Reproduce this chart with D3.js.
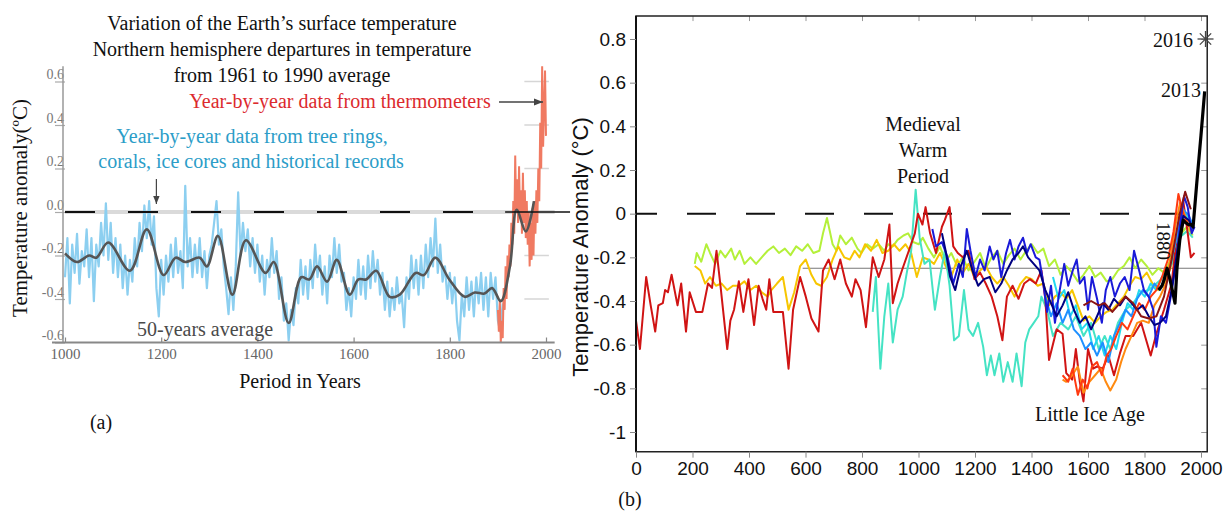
<!DOCTYPE html>
<html>
<head>
<meta charset="utf-8">
<script src="https://cdn.jsdelivr.net/npm/d3@7"></script>
<style>
  body { margin: 0; background: #fff; }
  svg { display: block; }
</style>
</head>
<body>
<div id="container"></div>
<script>
// ---------- panel (a) data ----------
// tree rings / corals / ice cores, one value every 5 years from 1000
let proxyStart = 1000;
let proxyStep = 5;
let proxyValues = [
  -0.30,-0.12,-0.42,-0.15,-0.28,-0.10,-0.33,-0.18,-0.25,-0.08,
  -0.30,-0.12,-0.41,-0.15,-0.25,-0.05,-0.20, 0.04,-0.22,-0.05,
  -0.28,-0.12,-0.30,-0.15,-0.35,-0.20,-0.38,-0.22,-0.32,-0.12,
  -0.25,-0.05,-0.18, 0.03,-0.12, 0.05,-0.15,-0.02,-0.35,-0.48,
  -0.22,-0.38,-0.20,-0.32,-0.15,-0.30,-0.12,-0.28,-0.18,-0.35,
   0.12,-0.25,-0.12,-0.30,-0.15,-0.28,-0.12,-0.30,-0.18,-0.35,
  -0.20,-0.15,-0.05, 0.05,-0.15,-0.08,-0.25,-0.35,-0.47,-0.30,
  -0.45,-0.25, 0.09,-0.20,-0.05,-0.18,-0.08,-0.25,-0.12,-0.28,
  -0.15,-0.32,-0.20,-0.38,-0.22,-0.30,-0.12,-0.28,-0.18,-0.40,
  -0.30,-0.50,-0.42,-0.59,-0.45,-0.52,-0.35,-0.42,-0.22,-0.38,
  -0.25,-0.40,-0.22,-0.35,-0.15,-0.30,-0.20,-0.38,-0.25,-0.42,
  -0.20,-0.30,-0.12,-0.28,-0.15,-0.32,-0.28,-0.45,-0.35,-0.48,
  -0.30,-0.40,-0.22,-0.38,-0.25,-0.40,-0.20,-0.35,-0.18,-0.32,
  -0.22,-0.38,-0.28,-0.45,-0.32,-0.48,-0.35,-0.45,-0.30,-0.42,
  -0.38,-0.53,-0.30,-0.40,-0.20,-0.35,-0.22,-0.38,-0.20,-0.35,
  -0.15,-0.30,-0.12,-0.25,-0.03,-0.28,-0.15,-0.32,-0.25,-0.40,
  -0.28,-0.42,-0.30,-0.50,-0.59,-0.38,-0.48,-0.30,-0.45,-0.32,
  -0.48,-0.30,-0.42,-0.28,-0.45,-0.30,-0.48,-0.28,-0.40,-0.30,
  -0.50,-0.55,-0.42
];
// thermometer record, every 2 years from 1900
let thermoStart = 1900;
let thermoStep = 2;
let thermoValues = [
  -0.45,-0.55,-0.40,-0.60,-0.50,-0.58,-0.35,-0.45,-0.25,-0.40,
  -0.20,-0.30,-0.15,-0.25,-0.05,-0.15, 0.05,-0.10, 0.26, 0.00,
   0.15,-0.05, 0.21,-0.02, 0.10,-0.10, 0.18,-0.05, 0.10,-0.12,
   0.05,-0.15, 0.00,-0.25,-0.05,-0.22, 0.02,-0.20, 0.05,-0.10,
   0.10,-0.05, 0.20, 0.05, 0.41, 0.20, 0.67, 0.30, 0.48, 0.65,
   0.35
];
// 50-year average (year, anomaly)
let average50 = [
  [1000,-0.19],[1025,-0.23],[1050,-0.20],[1065,-0.21],[1090,-0.14],[1135,-0.27],
  [1170,-0.08],[1205,-0.29],[1230,-0.21],[1250,-0.23],[1280,-0.21],[1295,-0.25],
  [1318,-0.11],[1348,-0.38],[1376,-0.13],[1417,-0.28],[1434,-0.23],[1465,-0.51],
  [1491,-0.30],[1508,-0.31],[1524,-0.25],[1545,-0.32],[1565,-0.22],[1592,-0.38],
  [1610,-0.31],[1626,-0.31],[1647,-0.27],[1675,-0.39],[1696,-0.38],[1729,-0.28],
  [1746,-0.29],[1770,-0.21],[1799,-0.31],[1831,-0.39],[1852,-0.37],[1872,-0.375],
  [1888,-0.35],[1906,-0.41],[1925,-0.25],[1939,0.01],[1958,-0.09],[1975,0.05]
];
let ticksA_x = [1000, 1200, 1400, 1600, 1800, 2000];
let ticksA_y = [-0.6, -0.4, -0.2, 0, 0.2, 0.4, 0.6];

// ---------- panel (b) data : reconstructions (year, anomaly) ----------
let crimson = [
  [0,-0.49],[14,-0.62],[36,-0.29],[52,-0.42],[68,-0.54],[79,-0.42],[95,-0.41],[103,-0.35],
  [113,-0.36],[126,-0.28],[147,-0.42],[160,-0.32],[177,-0.54],[190,-0.36],[212,-0.45],[235,-0.45],
  [255,-0.32],[269,-0.34],[285,-0.17],[299,-0.33],[323,-0.62],[334,-0.49],[347,-0.44],[364,-0.31],
  [380,-0.45],[398,-0.30],[418,-0.51],[434,-0.33],[448,-0.39],[461,-0.44],[472,-0.30],[486,-0.45],
  [502,-0.45],[520,-0.45],[540,-0.71],[556,-0.44],[581,-0.29],[601,-0.38],[621,-0.48],[646,-0.54],
  [662,-0.26],[682,-0.21],[703,-0.30],[723,-0.21],[743,-0.32],[764,-0.38],[777,-0.30],[795,-0.35],
  [814,-0.52],[838,-0.20],[859,-0.29],[879,-0.21],[897,-0.05],[909,-0.41],[926,-0.32],[944,-0.25],
  [963,-0.18],[987,-0.09],[998,0.00],[1014,-0.05],[1025,0.03],[1041,-0.09],[1062,-0.18],[1083,-0.06],
  [1093,-0.03],[1110,0.03],[1123,-0.15],[1139,-0.18],[1157,-0.20],[1177,-0.17],[1198,-0.30],[1218,-0.27],
  [1238,-0.32],[1259,-0.38],[1279,-0.47],[1297,-0.58],[1313,-0.38],[1333,-0.33],[1354,-0.39],[1374,-0.32],
  [1394,-0.30],[1415,-0.32],[1435,-0.26],[1449,-0.39],[1462,-0.67],[1489,-0.53],[1510,-0.55],[1523,-0.73],
  [1544,-0.76],[1557,-0.62],[1571,-0.77],[1584,-0.86],[1600,-0.62],[1618,-0.71],[1632,-0.70],[1652,-0.71],
  [1672,-0.65],[1692,-0.74],[1713,-0.64],[1733,-0.56],[1760,-0.56],[1788,-0.50],[1822,-0.65],[1842,-0.55],
  [1869,-0.44],[1896,-0.32],[1916,-0.09],[1937,0.06],[1950,-0.06],[1964,-0.20],[1977,-0.18]
];
let yellowGreen = [
  [208,-0.23],[215,-0.18],[231,-0.22],[249,-0.14],[262,-0.18],[280,-0.23],[299,-0.17],[316,-0.20],
  [337,-0.16],[350,-0.21],[367,-0.17],[384,-0.23],[405,-0.20],[425,-0.23],[445,-0.20],[466,-0.17],
  [486,-0.15],[506,-0.18],[527,-0.16],[547,-0.19],[567,-0.15],[588,-0.17],[608,-0.14],[628,-0.18],
  [649,-0.17],[662,-0.09],[676,-0.02],[696,-0.14],[710,-0.17],[723,-0.10],[743,-0.14],[764,-0.11],
  [784,-0.16],[798,-0.18],[818,-0.14],[838,-0.16],[859,-0.14],[879,-0.17],[893,-0.14],[909,-0.15],
  [926,-0.12],[947,-0.10],[963,-0.09],[981,-0.13],[1001,-0.14],[1015,-0.11],[1035,-0.16],[1055,-0.20],
  [1076,-0.15],[1096,-0.22],[1116,-0.18],[1137,-0.24],[1157,-0.20],[1177,-0.26],[1198,-0.22],[1218,-0.18],
  [1238,-0.25],[1259,-0.20],[1279,-0.17],[1300,-0.23],[1320,-0.19],[1340,-0.16],[1361,-0.21],[1381,-0.17],
  [1401,-0.14],[1422,-0.18],[1442,-0.16],[1462,-0.24],[1483,-0.21],[1503,-0.28],[1523,-0.24],[1544,-0.27],
  [1564,-0.31],[1584,-0.28],[1605,-0.24],[1625,-0.29],[1645,-0.27],[1666,-0.31],[1686,-0.30],[1706,-0.26],
  [1727,-0.24],[1747,-0.20],[1767,-0.25],[1788,-0.21],[1808,-0.24],[1828,-0.28],[1849,-0.25],[1869,-0.27],
  [1889,-0.22],[1910,-0.15],[1930,-0.09],[1950,-0.06],[1971,-0.10]
];
let gold = [
  [208,-0.24],[228,-0.26],[245,-0.32],[262,-0.29],[283,-0.33],[303,-0.32],[323,-0.35],[343,-0.33],
  [364,-0.33],[384,-0.31],[405,-0.35],[425,-0.33],[445,-0.36],[466,-0.38],[479,-0.35],[499,-0.32],
  [520,-0.29],[540,-0.44],[560,-0.36],[581,-0.24],[601,-0.21],[621,-0.28],[638,-0.32],[655,-0.33],
  [676,-0.29],[696,-0.21],[716,-0.15],[737,-0.20],[757,-0.21],[774,-0.17],[791,-0.20],[811,-0.14],
  [832,-0.17],[852,-0.12],[872,-0.18],[893,-0.17],[913,-0.14],[933,-0.17],[954,-0.14],[974,-0.18],
  [994,-0.29],[1015,-0.20],[1035,-0.21],[1055,-0.23],[1076,-0.18],[1096,-0.24],[1116,-0.29],[1137,-0.21],
  [1157,-0.27],[1177,-0.23],[1198,-0.29],[1218,-0.26],[1238,-0.24],[1259,-0.29],[1279,-0.32],[1300,-0.29],
  [1320,-0.33],[1340,-0.38],[1361,-0.32],[1381,-0.29],[1401,-0.30],[1422,-0.33],[1442,-0.32],[1462,-0.42],
  [1483,-0.38],[1503,-0.36],[1523,-0.39],[1544,-0.35],[1564,-0.42],[1584,-0.49],[1605,-0.47],[1625,-0.50],
  [1645,-0.47],[1666,-0.45],[1686,-0.44],[1706,-0.41],[1727,-0.38],[1747,-0.33],[1767,-0.29],[1788,-0.30],
  [1808,-0.27],[1828,-0.32],[1849,-0.35],[1869,-0.32],[1889,-0.26],[1910,-0.17],[1930,-0.05],[1950,-0.02],
  [1971,-0.06]
];
let aquamarine = [
  [838,-0.45],[849,-0.29],[865,-0.71],[879,-0.47],[893,-0.32],[909,-0.59],[926,-0.44],[944,-0.38],
  [960,-0.26],[974,-0.17],[990,0.11],[1004,-0.11],[1021,-0.23],[1039,-0.21],[1058,-0.44],[1076,-0.29],
  [1093,-0.17],[1110,-0.33],[1126,-0.58],[1143,-0.56],[1161,-0.35],[1177,-0.53],[1193,-0.56],[1211,-0.50],
  [1229,-0.61],[1242,-0.74],[1256,-0.65],[1269,-0.74],[1286,-0.64],[1300,-0.77],[1316,-0.68],[1333,-0.77],
  [1347,-0.64],[1365,-0.79],[1378,-0.59],[1392,-0.53],[1408,-0.50],[1424,-0.47],[1435,-0.38],[1455,-0.44],
  [1476,-0.56],[1503,-0.50],[1530,-0.53],[1557,-0.47],[1584,-0.56],[1611,-0.50],[1638,-0.62],[1659,-0.56],
  [1679,-0.62],[1706,-0.50],[1733,-0.44],[1760,-0.41],[1788,-0.36],[1815,-0.35],[1842,-0.32],[1869,-0.29],
  [1896,-0.23],[1923,-0.11],[1950,-0.08],[1971,-0.11]
];
let blue = [
  [1049,-0.07],[1062,-0.15],[1083,-0.13],[1103,-0.20],[1123,-0.32],[1143,-0.23],[1157,-0.29],[1171,-0.07],
  [1184,-0.17],[1202,-0.29],[1218,-0.21],[1234,-0.26],[1252,-0.15],[1265,-0.21],[1279,-0.17],[1293,-0.29],
  [1310,-0.18],[1324,-0.12],[1340,-0.21],[1354,-0.15],[1370,-0.11],[1384,-0.18],[1397,-0.14],[1415,-0.20],
  [1428,-0.21],[1442,-0.32],[1455,-0.45],[1469,-0.33],[1483,-0.50],[1496,-0.38],[1516,-0.23],[1530,-0.33],
  [1546,-0.26],[1560,-0.21],[1571,-0.32],[1587,-0.29],[1600,-0.44],[1614,-0.29],[1632,-0.39],[1649,-0.50],
  [1663,-0.35],[1679,-0.29],[1695,-0.38],[1713,-0.32],[1730,-0.29],[1747,-0.35],[1763,-0.17],[1781,-0.26],
  [1798,-0.35],[1815,-0.38],[1831,-0.44],[1842,-0.61],[1858,-0.47],[1876,-0.50],[1893,-0.38],[1910,-0.24],
  [1926,-0.05],[1940,0.08],[1953,0.03],[1967,-0.09],[1977,-0.06]
];
let navy = [
  [1083,-0.09],[1096,-0.17],[1112,-0.29],[1130,-0.35],[1150,-0.24],[1171,-0.17],[1191,-0.26],[1211,-0.33],
  [1232,-0.30],[1252,-0.29],[1272,-0.36],[1293,-0.32],[1313,-0.26],[1333,-0.21],[1354,-0.18],[1370,-0.15],
  [1388,-0.20],[1408,-0.23],[1428,-0.26],[1449,-0.35],[1469,-0.41],[1489,-0.47],[1510,-0.42],[1530,-0.36],
  [1550,-0.44],[1571,-0.50],[1591,-0.47],[1611,-0.53],[1632,-0.47],[1652,-0.41],[1672,-0.44],[1692,-0.39],
  [1713,-0.42],[1733,-0.38],[1754,-0.41],[1774,-0.44],[1794,-0.42],[1815,-0.47],[1835,-0.51],[1855,-0.50],
  [1876,-0.47],[1896,-0.35],[1916,-0.17],[1937,-0.01],[1957,-0.03],[1974,-0.07]
];
let skyBlue = [
  [1449,-0.38],[1469,-0.47],[1489,-0.41],[1510,-0.50],[1530,-0.44],[1550,-0.53],[1571,-0.56],[1591,-0.62],
  [1611,-0.59],[1632,-0.65],[1652,-0.59],[1672,-0.68],[1692,-0.56],[1713,-0.50],[1733,-0.44],[1754,-0.47],
  [1774,-0.39],[1794,-0.35],[1815,-0.38],[1835,-0.32],[1855,-0.35],[1876,-0.29],[1896,-0.21],[1916,-0.09],
  [1937,0.02],[1957,-0.01],[1974,-0.06]
];
let cyan = [
  [1476,-0.29],[1496,-0.39],[1516,-0.35],[1537,-0.47],[1557,-0.42],[1577,-0.53],[1598,-0.50],[1618,-0.62],
  [1638,-0.56],[1659,-0.65],[1679,-0.56],[1700,-0.62],[1720,-0.50],[1740,-0.41],[1760,-0.44],[1781,-0.35],
  [1801,-0.38],[1822,-0.32],[1842,-0.35],[1862,-0.29],[1883,-0.26],[1903,-0.17],[1923,-0.06],[1944,0.00],
  [1964,-0.04]
];
let orange = [
  [1510,-0.76],[1523,-0.77],[1544,-0.74],[1564,-0.70],[1584,-0.82],[1605,-0.77],[1625,-0.74],[1645,-0.71],
  [1663,-0.77],[1679,-0.81],[1700,-0.76],[1717,-0.68],[1733,-0.62],[1754,-0.56],[1774,-0.50],[1794,-0.49],
  [1815,-0.50],[1835,-0.42],[1855,-0.38],[1876,-0.32],[1896,-0.17],[1910,-0.05],[1926,0.05],[1944,-0.01],
  [1964,-0.08]
];
let redOrange = [
  [1510,-0.74],[1530,-0.77],[1546,-0.71],[1564,-0.83],[1581,-0.76],[1598,-0.80],[1614,-0.70],[1632,-0.68],
  [1649,-0.74],[1666,-0.65],[1682,-0.62],[1700,-0.56],[1720,-0.50],[1740,-0.53],[1760,-0.47],[1781,-0.41],
  [1801,-0.44],[1822,-0.38],[1842,-0.35],[1862,-0.29],[1883,-0.21],[1903,-0.08],[1920,0.09],[1937,0.00],
  [1957,-0.06]
];
let maroon = [
  [1584,-0.42],[1611,-0.40],[1638,-0.42],[1659,-0.41],[1686,-0.45],[1706,-0.42],[1733,-0.38],[1760,-0.41],
  [1788,-0.47],[1815,-0.48],[1842,-0.47],[1869,-0.38],[1896,-0.21],[1923,-0.01],[1944,0.10],[1964,0.02]
];
let instrumental = [
  [1850,-0.35],[1862,-0.33],[1870,-0.30],[1880,-0.25],[1890,-0.30],[1900,-0.36],[1908,-0.41],[1915,-0.25],
  [1925,-0.12],[1937,-0.03],[1945,-0.04],[1955,-0.05],[1965,-0.05],[1972,-0.06],[1985,0.14],[2000,0.36],
  [2013,0.56]
];
let year2016 = [2016, 0.8];
let referenceLevel = -0.25;   // thin grey line
let ticksB_x = [0, 200, 400, 600, 800, 1000, 1200, 1400, 1600, 1800, 2000];
let ticksB_y = [0.8, 0.6, 0.4, 0.2, 0, -0.2, -0.4, -0.6, -0.8, -1];

let seriesB = [
  {data: yellowGreen, color: "#b4f03a", width: 2},
  {data: gold, color: "#f7c600", width: 2},
  {data: aquamarine, color: "#45e3c4", width: 2},
  {data: crimson, color: "#d01414", width: 2},
  {data: cyan, color: "#22d8f0", width: 2},
  {data: skyBlue, color: "#1e90ff", width: 2},
  {data: orange, color: "#ff8a10", width: 2},
  {data: redOrange, color: "#ff3a10", width: 2},
  {data: blue, color: "#1a1ad8", width: 2},
  {data: navy, color: "#000080", width: 2},
  {data: maroon, color: "#8b1414", width: 2}
];

// ---------- drawing ----------
let w = 1227;
let h = 515;
let serif = "'Liberation Serif', 'Times New Roman', serif";
let sans = "'Liberation Sans', Arial, sans-serif";

let svg = d3.select("#container")
  .append("svg")
    .attr("width", w)
    .attr("height", h);
svg.append("rect").attr("width", w).attr("height", h).attr("fill", "#fff");

let defs = svg.append("defs");
defs.append("marker")
    .attr("id", "arrow")
    .attr("viewBox", "0 0 10 10")
    .attr("refX", 10).attr("refY", 5)
    .attr("markerWidth", 7).attr("markerHeight", 7)
    .attr("orient", "auto")
  .append("path")
    .attr("d", "M0,1L10,5L0,9z")
    .attr("fill", "#444");

// ===== panel (a) =====
let xA = d3.scaleLinear().domain([1000, 2000]).range([65, 546]);
let yA = d3.scaleLinear().domain([-0.6, 0.6]).range([342.5, 81.5]);
let a = svg.append("g").attr("class", "panelA");

// faint right-hand ticks
a.selectAll(".rtick").data([0.6, 0.4, 0.2, -0.2, -0.4]).enter()
  .append("line")
    .attr("x1", xA(1955)).attr("x2", xA(2006))
    .attr("y1", d => yA(d)).attr("y2", d => yA(d))
    .attr("stroke", "#d6d6d6").attr("stroke-width", 1.5);

// grey band under the zero line
a.append("line")
    .attr("x1", xA(1000)).attr("x2", xA(2018))
    .attr("y1", yA(0)).attr("y2", yA(0))
    .attr("stroke", "#dadada").attr("stroke-width", 4);

// proxy series
let proxyLine = d3.line()
  .x((d, i) => xA(proxyStart + i * proxyStep))
  .y(d => yA(d));
a.append("path")
    .attr("d", proxyLine(proxyValues))
    .attr("fill", "none")
    .attr("stroke", "#8ccff0")
    .attr("stroke-width", 2.2)
    .attr("stroke-linejoin", "round");

// thermometers
let thermoLine = d3.line()
  .x((d, i) => xA(thermoStart + i * thermoStep))
  .y(d => yA(d));
a.append("path")
    .attr("d", thermoLine(thermoValues))
    .attr("fill", "none")
    .attr("stroke", "#f07a62")
    .attr("stroke-width", 2);

// 50 year average
let avgLine = d3.line()
  .x(d => xA(d[0])).y(d => yA(d[1]))
  .curve(d3.curveCatmullRom.alpha(0.5));
a.append("path")
    .attr("d", avgLine(average50))
    .attr("fill", "none")
    .attr("stroke", "#555")
    .attr("stroke-width", 2.6);

// dashed zero line, solid at the end
a.append("line")
    .attr("x1", xA(1000)).attr("x2", xA(1915))
    .attr("y1", yA(0)).attr("y2", yA(0))
    .attr("stroke", "#111").attr("stroke-width", 2.2)
    .attr("stroke-dasharray", "30,33");
a.append("line")
    .attr("x1", xA(1915)).attr("x2", xA(2050))
    .attr("y1", yA(0)).attr("y2", yA(0))
    .attr("stroke", "#111").attr("stroke-width", 1.6);

// axes
let yAxisA = d3.axisLeft(yA)
  .tickValues(ticksA_y)
  .tickSize(10)
  .tickFormat(d => d.toFixed(1));
let yAxisAGroup = a.append("g")
    .attr("transform", "translate(" + xA(1000) + ",0)")
    .call(yAxisA);
yAxisAGroup.select(".domain").remove();
yAxisAGroup.selectAll("line").attr("stroke", "#aaa").attr("stroke-width", 1.2);
yAxisAGroup.selectAll("text")
    .attr("x", -1).attr("dy", "-0.2em")
    .style("font-family", serif).style("font-size", "14px")
    .attr("fill", "#777");
a.append("line")
    .attr("x1", xA(1000) - 2).attr("x2", xA(1000) - 2)
    .attr("y1", yA(0.67)).attr("y2", yA(-0.6))
    .attr("stroke", "#999").attr("stroke-width", 1.5);

let xAxisA = d3.axisBottom(xA)
  .tickValues(ticksA_x)
  .tickSize(-5)
  .tickPadding(6)
  .tickFormat(d3.format("d"));
let xAxisAGroup = a.append("g")
    .attr("transform", "translate(0," + yA(-0.6) + ")")
    .call(xAxisA);
xAxisAGroup.select(".domain").remove();
xAxisAGroup.selectAll("line").attr("stroke", "#888").attr("stroke-width", 1.2);
xAxisAGroup.selectAll("text")
    .style("font-family", serif).style("font-size", "15px")
    .attr("fill", "#666");
a.append("line")
    .attr("x1", xA(973)).attr("x2", xA(2018))
    .attr("y1", yA(-0.6)).attr("y2", yA(-0.6))
    .attr("stroke", "#888").attr("stroke-width", 2);

// texts of panel (a)
function txt(g, x, y, s, opts) {
  opts = opts || {};
  return g.append("text")
    .attr("x", x).attr("y", y)
    .attr("text-anchor", opts.anchor || "middle")
    .attr("fill", opts.fill || "#111")
    .style("font-family", opts.font || serif)
    .style("font-size", (opts.size || 20) + "px")
    .text(s);
}
txt(a, 282, 30, "Variation of the Earth\u2019s surface temperature");
txt(a, 282, 56, "Northern hemisphere departures in temperature");
txt(a, 282, 82, "from 1961 to 1990 average");
txt(a, 340, 108, "Year-by-year data from thermometers", {fill: "#dc2a2e"});
txt(a, 252, 143, "Year-by-year data from tree rings,", {fill: "#2b9dc8"});
txt(a, 251, 168, "corals, ice cores and historical records", {fill: "#2b9dc8"});
txt(a, 205, 336, "50-years average", {fill: "#4a4a4a"});
txt(a, 300, 388, "Period in Years");
txt(a, 101, 429, "(a)");
a.append("text")
    .attr("transform", "translate(27,208) rotate(-90)")
    .attr("text-anchor", "middle")
    .style("font-family", serif).style("font-size", "21px")
    .attr("fill", "#111")
    .text("Temperature anomaly(\u00baC)");

a.append("line")
    .attr("x1", 499).attr("x2", 543).attr("y1", 102).attr("y2", 102)
    .attr("stroke", "#444").attr("stroke-width", 1.3)
    .attr("marker-end", "url(#arrow)");
a.append("line")
    .attr("x1", xA(1190)).attr("x2", xA(1190)).attr("y1", 179).attr("y2", 204)
    .attr("stroke", "#444").attr("stroke-width", 1.2)
    .attr("marker-end", "url(#arrow)");

// ===== panel (b) =====
let xB = d3.scaleLinear().domain([0, 2000]).range([636, 1201]);
let yB = d3.scaleLinear().domain([-1, 0.8]).range([432, 39]);
let b = svg.append("g").attr("class", "panelB");
let frameTop = yB(0.905), frameBottom = yB(-1.09), frameRight = xB(2022), frameLeft = xB(0);

// inner ticks on top and right borders
let topAxis = d3.axisTop(xB).tickValues(ticksB_x).tickSize(-5).tickFormat("");
let topG = b.append("g").attr("transform", "translate(0," + frameTop + ")").call(topAxis);
topG.select(".domain").remove();
topG.selectAll("line").attr("stroke", "#999");
let rightAxis = d3.axisRight(yB).tickValues(ticksB_y).tickSize(-6).tickFormat("");
let rightG = b.append("g").attr("transform", "translate(" + frameRight + ",0)").call(rightAxis);
rightG.select(".domain").remove();
rightG.selectAll("line").attr("stroke", "#999");

// reference line
b.append("line")
    .attr("x1", xB(590)).attr("x2", frameRight)
    .attr("y1", yB(referenceLevel)).attr("y2", yB(referenceLevel))
    .attr("stroke", "#777").attr("stroke-width", 1.1);

// zero line
b.append("line")
    .attr("x1", frameLeft).attr("x2", frameRight)
    .attr("y1", yB(0)).attr("y2", yB(0))
    .attr("stroke", "#111").attr("stroke-width", 2)
    .attr("stroke-dasharray", "29,30")
    .attr("stroke-dashoffset", 8);

let lineB = d3.line().x(d => xB(d[0])).y(d => yB(d[1]));
b.selectAll(".recon").data(seriesB).enter()
  .append("path")
    .attr("class", "recon")
    .attr("d", d => lineB(d.data))
    .attr("fill", "none")
    .attr("stroke", d => d.color)
    .attr("stroke-width", d => d.width)
    .attr("stroke-linejoin", "round");

b.append("path")
    .attr("d", lineB(instrumental))
    .attr("fill", "none")
    .attr("stroke", "#000")
    .attr("stroke-width", 3.2)
    .attr("stroke-linejoin", "round");

// frame
b.append("path")
    .attr("d", "M" + frameLeft + "," + frameTop + "H" + frameRight + "V" + frameBottom + "H" + frameLeft + "Z")
    .attr("fill", "none").attr("stroke", "#222").attr("stroke-width", 1.5);
b.append("line")
    .attr("x1", frameLeft).attr("x2", frameLeft).attr("y1", frameTop).attr("y2", frameBottom)
    .attr("stroke", "#111").attr("stroke-width", 2);

// axes
let yAxisB = d3.axisLeft(yB)
  .tickValues(ticksB_y)
  .tickSize(6)
  .tickPadding(4)
  .tickFormat(d => d === 0 ? "0" : (d === -1 ? "-1" : d.toFixed(1)));
let yAxisBGroup = b.append("g").attr("transform", "translate(" + frameLeft + ",0)").call(yAxisB);
yAxisBGroup.select(".domain").remove();
yAxisBGroup.selectAll("line").attr("stroke", "#888");
yAxisBGroup.selectAll("text")
    .style("font-family", sans).style("font-size", "19px").attr("fill", "#111");

let xAxisB = d3.axisBottom(xB)
  .tickValues(ticksB_x)
  .tickSize(6)
  .tickPadding(4)
  .tickFormat(d3.format("d"));
let xAxisBGroup = b.append("g").attr("transform", "translate(0," + frameBottom + ")").call(xAxisB);
xAxisBGroup.select(".domain").remove();
xAxisBGroup.selectAll("line").attr("stroke", "#888");
xAxisBGroup.selectAll("text")
    .style("font-family", sans).style("font-size", "19px").attr("fill", "#111");

b.append("text")
    .attr("transform", "translate(588,247) rotate(-90)")
    .attr("text-anchor", "middle")
    .style("font-family", sans).style("font-size", "22px")
    .attr("fill", "#111")
    .text("Temperature Anomaly (\u00b0C)");

txt(b, 923, 131, "Medieval");
txt(b, 923, 157, "Warm");
txt(b, 923, 183, "Period");
txt(b, 1090, 421, "Little Ice Age");
txt(b, 630, 506, "(b)");
txt(b, 1193, 47, "2016", {anchor: "end"});
txt(b, 1201, 97, "2013", {anchor: "end"});
b.append("text")
    .attr("transform", "translate(1157,241) rotate(90)")
    .attr("text-anchor", "middle")
    .style("font-family", serif).style("font-size", "19px")
    .attr("fill", "#111")
    .text("1880");

// 2016 asterisk
let star = b.append("g")
    .attr("transform", "translate(" + xB(year2016[0]) + "," + yB(year2016[1]) + ")");
[0, 45, 90, 135].forEach(function(angle) {
  star.append("line")
      .attr("x1", -8).attr("x2", 8)
      .attr("transform", "rotate(" + angle + ")")
      .attr("stroke", "#444").attr("stroke-width", 1.3);
});
</script>
</body>
</html>
